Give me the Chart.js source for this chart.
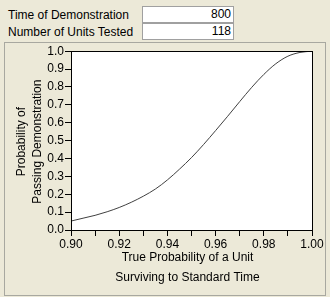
<!DOCTYPE html>
<html>
<head>
<script src="https://cdn.jsdelivr.net/npm/chart.js@4"></script>
<style>
body { margin: 0; background: #ECE9D8; font-family: "Liberation Sans", Arial, sans-serif; font-size: 12px; }
#wrap { position: relative; width: 330px; height: 297px; overflow: hidden; }
.lbl { position: absolute; left: 8px; color: #000; }
.box { position: absolute; left: 142px; width: 88px; height: 15px; background: #fff; border: 1px solid #A0A0A0; text-align: right; padding-right: 2px; line-height: 15px; }
#panel { position: absolute; left: 4px; top: 42px; width: 320px; height: 252px; border: 1px solid #A8A8A0; }
#panel canvas { position: absolute; left: 0; top: 0; }
</style>
</head>
<body>
<div id="wrap">
  <div class="lbl" style="top:8px">Time of Demonstration</div>
  <div class="box" style="top:6px">800</div>
  <div class="lbl" style="top:25px">Number of Units Tested</div>
  <div class="box" style="top:23px">118</div>
  <div id="panel"><canvas id="c" width="320" height="252"></canvas></div>
</div>
<script>
// true probability of a unit surviving vs probability of passing
var reliability = [0.900, 0.905, 0.910, 0.915, 0.920, 0.925, 0.930, 0.935, 0.940, 0.945, 0.950,
                   0.955, 0.960, 0.965, 0.970, 0.975, 0.980, 0.985, 0.990, 0.995, 1.000]
var passProb = [0.050, 0.066, 0.082, 0.102, 0.126, 0.155, 0.189, 0.229, 0.280, 0.340, 0.405,
                0.478, 0.556, 0.636, 0.718, 0.798, 0.870, 0.930, 0.972, 0.993, 1.000]
var xTitle = ['True Probability of a Unit', 'Surviving to Standard Time']
var yTitle = ['Probability of', 'Passing Demonstration']

var pts = reliability.map(function(x, i) { return {x: x, y: passProb[i]} })
var fontStr = '12px "Liberation Sans", Arial, sans-serif'

var frame = {
    id: 'frame',
    beforeDraw: function(chart) {
        var a = chart.chartArea, ctx = chart.ctx
        ctx.save()
        ctx.fillStyle = '#fff'
        ctx.fillRect(a.left, a.top, a.right - a.left, a.bottom - a.top)
        ctx.restore()
    },
    afterDraw: function(chart) {
        var a = chart.chartArea, ctx = chart.ctx
        ctx.save()
        ctx.strokeStyle = '#000'
        ctx.lineWidth = 1
        ctx.strokeRect(Math.round(a.left) + 0.5, Math.round(a.top) + 0.5, Math.round(a.right - a.left), Math.round(a.bottom - a.top))
        // axis titles
        ctx.fillStyle = '#000'
        ctx.font = fontStr
        ctx.textAlign = 'center'
        ctx.textBaseline = 'middle'
        var cx = (a.left + a.right) / 2 - 4
        ctx.fillText(xTitle[0], cx, a.bottom + 28)
        ctx.fillText(xTitle[1], cx, a.bottom + 48)
        var cy = (a.top + a.bottom) / 2 + 1
        ctx.translate(0, cy)
        ctx.rotate(-Math.PI / 2)
        ctx.fillText(yTitle[0], 0, 17)
        ctx.fillText(yTitle[1], 0, 33)
        ctx.restore()
    }
}

var font = { family: '"Liberation Sans", Arial, sans-serif', size: 12 }

new Chart(document.getElementById('c').getContext('2d'), {
    type: 'line',
    data: {
        datasets: [{
            data: pts,
            borderColor: '#404040',
            borderWidth: 1,
            pointRadius: 0,
            cubicInterpolationMode: 'monotone',
            fill: false
        }]
    },
    options: {
        responsive: false,
        animation: false,
        layout: { padding: { top: 7, right: 13, left: 0, bottom: 0 } },
        plugins: { legend: { display: false }, tooltip: { enabled: false } },
        scales: {
            x: {
                type: 'linear',
                min: 0.9, max: 1.0,
                ticks: {
                    stepSize: 0.01,
                    autoSkip: false,
                    maxRotation: 0,
                    color: '#000',
                    font: font,
                    padding: 1,
                    callback: function(v) {
                        var k = Math.round(v * 100)
                        return k % 2 === 0 ? (k / 100).toFixed(2) : ''
                    }
                },
                grid: { drawOnChartArea: false, tickLength: 6, color: '#000' },
                border: { color: '#000' },
                afterFit: function(s) { s.height = 65 }
            },
            y: {
                min: 0, max: 1,
                ticks: {
                    stepSize: 0.1,
                    color: '#000',
                    font: font,
                    padding: 1,
                    callback: function(v) { return v.toFixed(1) }
                },
                grid: { drawOnChartArea: false, tickLength: 6, color: '#000' },
                border: { color: '#000' },
                afterFit: function(s) { s.width = 66 }
            }
        }
    },
    plugins: [frame]
})
</script>
</body>
</html>
